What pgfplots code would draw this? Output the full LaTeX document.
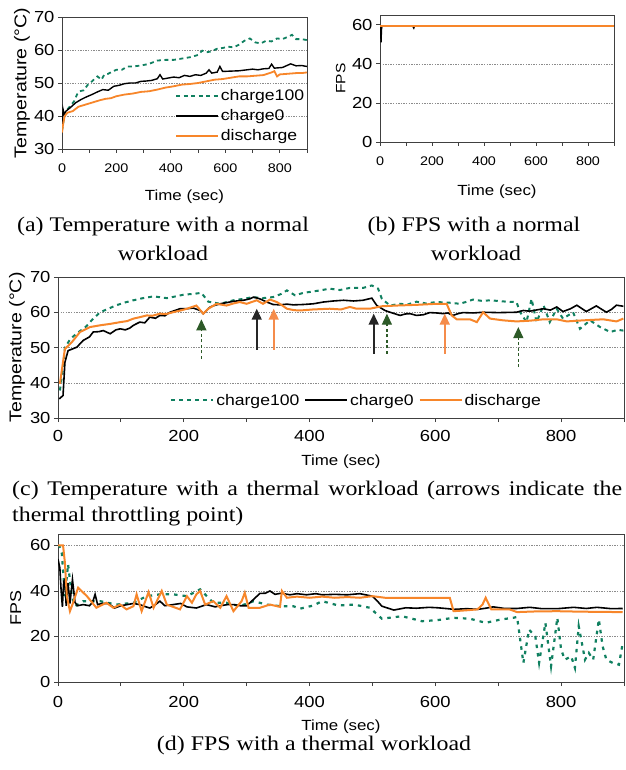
\documentclass[border=0pt]{standalone}
\usepackage{fontspec}
\usepackage{pgfplots}
\pgfplotsset{compat=1.18}
\usetikzlibrary{arrows.meta}
\newfontfamily\sansS{Liberation Sans}[FakeStretch=1.15]
\newfontfamily\capS{Liberation Serif}[FakeStretch=1.15]
\newcommand\fs[1]{\sansS\fontsize{#1}{#1}\selectfont}
\newcommand\cf{\capS\fontsize{20.8}{24}\selectfont}
\definecolor{cgreen}{RGB}{16,128,96}
\definecolor{corange}{RGB}{247,134,42}
\definecolor{agreen}{RGB}{45,90,40}
\definecolor{aorange}{RGB}{245,140,75}
\tikzset{
  gline/.style={color=cgreen, line width=1.8pt, dash pattern=on 4pt off 3.5pt},
  kline/.style={color=black, line width=1.4pt},
  oline/.style={color=corange, line width=1.8pt},
}
\pgfplotsset{
  myaxis/.style={
    scale only axis,
    xmin=0, xmax=900,
    axis line style={draw=black!75, line width=0.8pt},
    every tick/.style={black!75, line width=0.8pt},
    tick align=outside,
    major tick length=4pt, minor tick length=4pt,
    tick pos=left,
    xtick={0,200,...,800}, minor xtick={100,300,...,900},
    ymajorgrids,
    grid style={black!45, dash pattern=on 1.3pt off 1.3pt, line width=0.5pt},
    /pgf/number format/assume math mode=true,
    yticklabel style={font=\fs{16}},
    ylabel style={font=\fs{17}, anchor=center},
    xlabel style={font=\fs{14.7}, anchor=center},
    legend image code/.code={\draw[##1] (0pt,0pt) -- (42pt,0pt);},
  },
}
\begin{document}
\begin{tikzpicture}
\useasboundingbox (0pt,0pt) rectangle (625pt,-770pt);

% ---------------- (a)
\begin{axis}[myaxis, at={(62pt,-17pt)}, anchor=north west,
  width=245pt, height=132pt,
  ymin=30, ymax=70, ytick={30,40,...,70},
  xticklabel style={font=\fs{12.5}, yshift=-7pt},
  xlabel={Time (sec)}, ylabel={Temperature (°C)},
  xlabel style={at={(axis description cs:0.5,-0.36)}},
  ylabel style={at={(axis description cs:-0.163,0.5)}},
  legend style={at={(axis description cs:0.461,0.25)}, anchor=west, draw=none, fill=none,
    font=\fs{15.3}, inner sep=0pt, row sep=3.5pt, nodes={inner sep=2pt}},
  legend cell align=left]
\addplot[gline] coordinates {(0,35.5)(5,38)(10,41)(20,42)(30,43)(45,44.5)(55,46.5)(65,47.5)(80,47.8)(95,49.5)(110,50.5)(130,52)(145,51)(155,52.5)(170,52.8)(185,53.5)(200,54)(220,54)(240,55)(260,55)(290,55.3)(320,55.8)(350,56.8)(380,57)(410,57)(440,57.4)(470,57.8)(500,58.5)(515,59.8)(530,59.3)(550,59.6)(570,60.4)(590,60.6)(610,61)(630,60.8)(650,61.6)(670,62.8)(690,63.5)(710,62.3)(730,62)(750,62.8)(770,62.6)(790,63.5)(810,63.3)(830,64)(845,64.6)(860,63.3)(880,63.3)(900,63)};
\addlegendentry{charge100}
\addplot[kline] coordinates {(0,35)(4,42)(8,40.5)(15,41.5)(30,42.5)(50,44)(70,45)(90,45.8)(110,46.5)(130,47.3)(150,48)(170,47.8)(190,49)(210,49.3)(230,49.8)(250,50)(270,50)(290,50.5)(310,50.6)(330,50.8)(350,51.3)(360,52.5)(370,51.2)(390,51.5)(410,51.8)(430,51.6)(450,52.3)(470,52)(490,52.5)(510,52.3)(530,53)(540,54)(550,53)(570,53.3)(580,55)(590,53.5)(620,53.6)(650,53.7)(680,54)(700,54.2)(720,54)(740,54.3)(760,54.4)(770,55.7)(780,54.5)(810,54.7)(840,55.8)(860,55.2)(880,55.3)(900,55)};
\addlegendentry{charge0}
\addplot[oline] coordinates {(0,35)(5,38)(10,40)(20,41)(40,41.5)(60,42.8)(80,43.3)(100,43.8)(120,44.3)(140,44.8)(160,45.2)(180,45.4)(200,46)(230,46.5)(260,46.8)(290,47.3)(320,47.5)(350,48)(380,48.6)(410,49)(440,49.5)(470,49.7)(500,50)(530,50.5)(560,51)(590,51.2)(620,51.6)(650,52)(680,52)(710,52.2)(740,52.4)(770,53.2)(780,53.6)(790,52)(800,52.6)(830,52.8)(860,53)(880,53)(900,53.2)};
\addlegendentry{discharge}
\end{axis}

% ---------------- (b)
\begin{axis}[myaxis, at={(380pt,-15pt)}, anchor=north west,
  width=234pt, height=127pt,
  ymin=0, ymax=65, ytick={0,20,40,60},
  xticklabel style={font=\fs{12.5}, yshift=-7pt},
  xlabel={Time (sec)}, ylabel={FPS},
  ylabel style={font=\fs{13.5}, at={(axis description cs:-0.168,0.5)}},
  xlabel style={at={(axis description cs:0.5,-0.39)}}]
\addplot[gline] coordinates {(0,59.5)(900,59.5)};
\addplot[kline] coordinates {(0,59.5)(2,59.5)(3,56)(4,51)(5,55)(6,58)(8,59.5)(125,59.5)(130,58.3)(133,59.5)(900,59.5)};
\addplot[oline, line width=2.3pt] coordinates {(0,59.5)(900,59.5)};
\end{axis}

% ---------------- (c)
\begin{axis}[myaxis, at={(58pt,-277pt)}, anchor=north west,
  width=566pt, height=141pt,
  ymin=30, ymax=70, ytick={30,40,...,70},
  xticklabel style={font=\fs{16}, yshift=-5pt},
  xlabel={Time (sec)}, ylabel={Temperature (°C)},
  xlabel style={at={(axis description cs:0.5,-0.307)}},
  ylabel style={at={(axis description cs:-0.0724,0.5)}},
  legend columns=3,
  legend style={at={(axis description cs:0.198,0.126)}, anchor=west, draw=none, fill=none,
    font=\fs{15.3}, inner sep=0pt, nodes={inner sep=2pt},
    /tikz/every odd column/.append style={column sep=0pt},
    /tikz/every even column/.append style={column sep=3pt}}]
\addplot[gline, line width=2pt, dash pattern=on 4pt off 4pt] coordinates {(3,37.8)(8,44)(11,50)(20,52.5)(30,54)(45,56)(55,58)(67,60)(80,61)(93,62)(107,62.8)(120,63.4)(135,64)(152,64.5)(165,64.2)(173,64)(190,64.6)(200,65)(215,65.2)(228,65.5)(239,63)(258,62.4)(279,63.4)(295,63.8)(310,64.3)(325,64)(342,64.3)(355,65.2)(364,66.2)(377,64.8)(390,65.5)(406,65.9)(420,66.3)(432,66.7)(448,66.3)(464,66.9)(485,66.9)(499,67.6)(509,66.7)(515,63.8)(528,61.9)(544,62.4)(556,62.2)(570,63)(585,62.5)(602,62.9)(623,62.7)(639,62.4)(650,63)(660,63.6)(675,63.2)(687,63.4)(700,63.2)(713,63)(729,62.9)(735,60)(745,57.2)(753,63.8)(761,57.2)(772,62)(782,57.2)(793,61)(803,58.2)(819,60)(830,55.3)(846,57.7)(862,55.8)(878,54.4)(890,55)(899,54.8)};
\addlegendentry{charge100}
\addplot[kline, line width=1.6pt] coordinates {(2,35.4)(8,36.4)(11,45.8)(16,49.1)(30,50.1)(40,52)(50,53)(56,54.4)(65,54.5)(72,54.8)(83,53.9)(92,55)(99,55.3)(107,55)(114,55.5)(120,56.3)(130,57.2)(138,57)(146,58.6)(155,58.3)(162,59.1)(170,59)(178,60)(186,60.5)(194,61)(205,61)(215,61.2)(226,60.5)(231,59.6)(242,61.5)(250,62)(258,62.4)(270,62.8)(279,63.1)(295,63.4)(305,63.8)(311,64.3)(321,63.8)(332,62.9)(342,62.2)(353,62.1)(364,62.3)(374,62.1)(390,62.2)(406,62.4)(422,62.9)(438,63.2)(454,63.4)(470,63.2)(485,63.4)(499,64)(507,61.9)(520,60.5)(528,60)(544,59.1)(552,59.5)(560,59.6)(570,59.1)(581,59.3)(591,59.9)(602,59.8)(613,59.6)(620,59.8)(628,59.1)(636,59.6)(644,59.9)(660,59.8)(676,60)(700,59.9)(729,60)(740,60.5)(750,60.3)(772,61)(783,60.6)(793,61.5)(803,60.2)(815,61)(825,62)(840,60.2)(856,61.8)(872,60)(880,60.8)(888,62)(899,61.7)};
\addlegendentry{charge0}
\addplot[oline, line width=2pt] coordinates {(3,39.7)(11,49.6)(22,51.5)(35,54.4)(51,55.8)(67,56.3)(83,56.7)(99,57.2)(110,57.5)(120,58.2)(130,58.6)(141,59.1)(150,59)(162,59.6)(172,59.5)(183,60)(195,60.5)(205,61)(220,61.9)(231,59.6)(239,61)(252,62.4)(268,61.9)(279,62.5)(289,62.9)(300,62.4)(316,63.4)(326,62.4)(337,63.6)(348,62.9)(356,62)(364,61)(375,60.6)(385,60.5)(406,60.8)(432,61)(450,60.8)(464,61.5)(475,61)(496,61)(515,61.7)(538,61.9)(570,62.1)(602,62.4)(618,62.4)(626,59.1)(634,58)(655,58)(666,57.2)(676,60)(687,58.2)(708,57.7)(729,57.4)(750,57.6)(772,58)(793,58)(809,57.4)(835,57.7)(867,58)(888,57.4)(899,58.2)};
\addlegendentry{discharge}
% throttling arrows
\draw[agreen, line width=1.2pt, dash pattern=on 3pt off 2.5pt, -{Triangle[width=10pt,length=11pt]}] (axis cs:228,46.8) -- (axis cs:228,58);
\draw[black!85, line width=1.6pt, -{Triangle[width=10pt,length=11pt]}] (axis cs:316,49.4) -- (axis cs:316,61);
\draw[aorange, line width=1.6pt, -{Triangle[width=10pt,length=11pt]}] (axis cs:343,49.4) -- (axis cs:343,61);
\draw[black!85, line width=1.6pt, -{Triangle[width=10pt,length=11pt]}] (axis cs:502,48.2) -- (axis cs:502,59.6);
\draw[agreen, line width=1.2pt, dash pattern=on 3pt off 2.5pt, -{Triangle[width=10pt,length=11pt]}] (axis cs:523,48.2) -- (axis cs:523,59.6);
\draw[aorange, line width=1.6pt, -{Triangle[width=10pt,length=11pt]}] (axis cs:615,48.2) -- (axis cs:615,59.6);
\draw[agreen, line width=1.2pt, dash pattern=on 3pt off 2.5pt, -{Triangle[width=10pt,length=11pt]}] (axis cs:732,44.4) -- (axis cs:732,55.8);
\end{axis}

% ---------------- (d)
\begin{axis}[myaxis, at={(58pt,-534pt)}, anchor=north west,
  width=566pt, height=148pt,
  ymin=0, ymax=65, ytick={0,20,40,60},
  xticklabel style={font=\fs{16}, yshift=-7pt},
  xlabel={Time (sec)}, ylabel={FPS},
  ylabel style={font=\fs{15.6}, at={(axis description cs:-0.0747,0.5)}},
  xlabel style={at={(axis description cs:0.5,-0.3)}}]
\addplot[gline, line width=2.2pt, dash pattern=on 3.5pt off 5pt] coordinates {(0,60)(2,59.8)(6,56.8)(11,37.7)(16,51.7)(22,37.7)(27,33.3)(40,35.5)(67,35.5)(93,34)(120,34.8)(141,37.7)(162,38.5)(183,38.5)(205,37.7)(226,40.7)(247,34.8)(268,34.8)(289,33.3)(311,35.5)(332,34)(353,33.3)(374,33.3)(385,32.2)(406,33.6)(420,35.5)(446,33.6)(471,34)(496,32.6)(515,27.8)(547,28.9)(579,26.7)(604,27.2)(629,28.2)(655,27.8)(680,26)(705,27.5)(724,28.2)(730,28.6)(740,8.4)(749,23)(759,20)(765,8.4)(775,26)(784,6.9)(794,28.2)(800,14.2)(806,9.8)(816,11.3)(822,6.2)(828,24.5)(838,9.8)(844,12.8)(851,9.8)(860,27.5)(866,15.7)(872,9.8)(882,8.4)(892,7.6)(898,17.2)};
\addplot[kline, line width=1.6pt] coordinates {(0,54)(3,50)(5,40)(7,33)(9,44)(11,45)(13,33.5)(16,43.5)(19,34.5)(23,45)(27,35)(31,33.5)(40,34)(50,33.5)(55,35)(59,38.5)(63,34)(70,34.5)(80,34.5)(90,32.5)(100,33.5)(110,34)(120,34.5)(130,34)(140,33)(146,32.5)(155,34)(162,35.5)(170,33.5)(183,34)(195,34.5)(205,33)(220,32.5)(236,34)(250,33)(258,33.5)(270,34)(279,34)(290,33.5)(300,33.5)(311,36.3)(321,38.9)(330,39)(337,40)(345,38.5)(355,39)(369,38.3)(380,38.8)(395,38.3)(410,38.8)(420,38.3)(440,38.5)(460,38.3)(480,38.8)(500,37.7)(508,35.5)(515,33.3)(534,31.6)(553,32.6)(570,32.4)(590,32.8)(604,32.6)(620,32.2)(629,31.9)(650,32.2)(667,31.9)(680,32.4)(692,33)(710,32.3)(730,32.3)(750,32.8)(770,32.2)(794,32.2)(820,32.8)(840,32.3)(857,32.8)(880,32.2)(898,32.3)};
\addplot[oline, line width=2pt] coordinates {(0,60)(8,60)(11,52.4)(14,37.7)(19,31.1)(24,34.8)(32,41.4)(46,37.7)(61,32.6)(77,34.8)(88,32.6)(99,34)(109,31.9)(120,33.3)(125,38.5)(133,31.1)(144,39.5)(152,32.6)(165,40)(173,34)(194,31.9)(205,37.7)(213,34.8)(220,38.5)(226,40)(234,34)(247,35.5)(258,32.6)(268,37.7)(279,31.1)(292,35.5)(297,39.2)(303,32.6)(321,32.6)(337,34)(353,33)(356,40)(364,37)(380,37.5)(400,37)(420,37.5)(440,37)(460,37.3)(480,37)(500,37.7)(520,37)(560,37)(600,37)(623,37)(629,31.1)(650,31.5)(667,31.9)(675,34)(680,37)(689,31.9)(718,31.9)(730,30.7)(760,31)(794,31.1)(830,30.9)(860,30.8)(898,30.7)};
\end{axis}

% ---------------- captions
\node[inner sep=0pt, font=\cf] at (163pt,-226pt) {(a) Temperature with a normal};
\node[inner sep=0pt, font=\cf] at (163pt,-253pt) {workload};
\node[inner sep=0pt, font=\cf] at (474pt,-226pt) {(b) FPS with a normal};
\node[inner sep=0pt, font=\cf] at (476pt,-253pt) {workload};
\node[inner sep=0pt, anchor=west, font=\cf] at (12pt,-490pt) {\makebox[610pt][s]{(c) Temperature with a thermal workload (arrows indicate the}};
\node[inner sep=0pt, anchor=west, font=\cf] at (12pt,-517pt) {thermal throttling point)};
\node[inner sep=0pt, font=\cf] at (314pt,-745pt) {(d) FPS with a thermal workload};
\end{tikzpicture}
\end{document}
